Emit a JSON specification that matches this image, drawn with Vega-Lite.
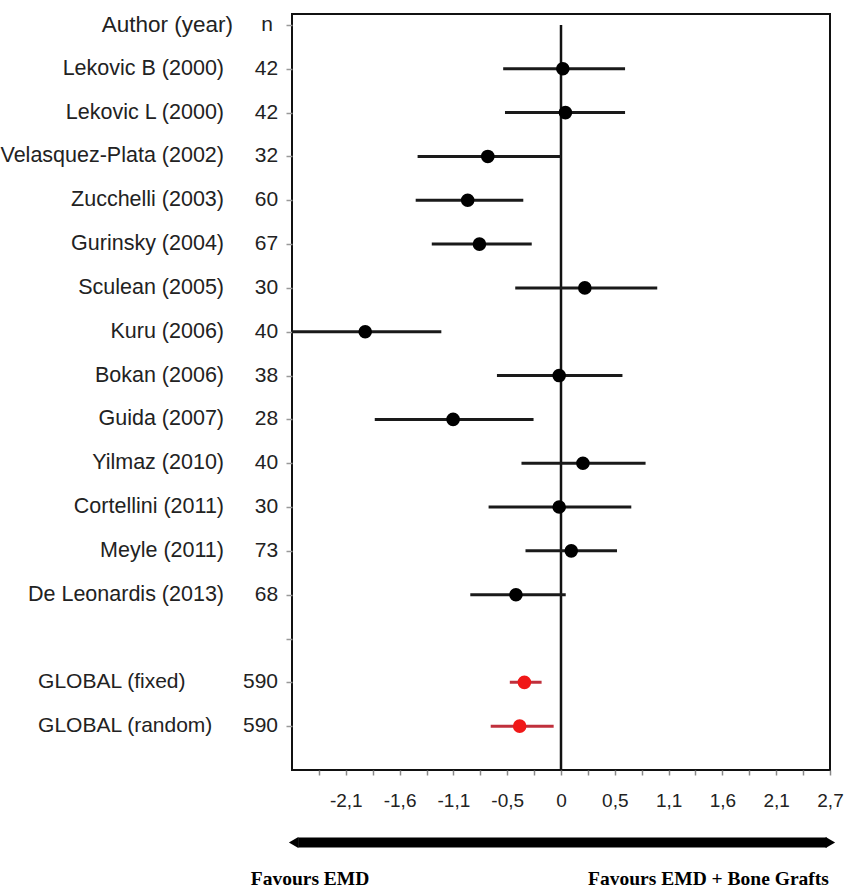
{
  "$schema": "https://vega.github.io/schema/vega-lite/v6.json",
  "padding": {"left": 0, "top": 13, "right": 0, "bottom": 0},
  "background": "white",
  "config": {"font": "Liberation Sans", "view": {"stroke": null}},
  "datasets": {
    "studies": [
      {"row": 1, "author": "Lekovic B (2000)", "n": "42", "pt": 0.018, "lo": -0.575, "hi": 0.637, "type": "study"},
      {"row": 2, "author": "Lekovic L (2000)", "n": "42", "pt": 0.044, "lo": -0.557, "hi": 0.637, "type": "study"},
      {"row": 3, "author": "Velasquez-Plata (2002)", "n": "32", "pt": -0.728, "lo": -1.426, "hi": 0.0, "type": "study"},
      {"row": 4, "author": "Zucchelli (2003)", "n": "60", "pt": -0.928, "lo": -1.445, "hi": -0.375, "type": "study"},
      {"row": 5, "author": "Gurinsky (2004)", "n": "67", "pt": -0.811, "lo": -1.285, "hi": -0.291, "type": "study"},
      {"row": 6, "author": "Sculean (2005)", "n": "30", "pt": 0.237, "lo": -0.455, "hi": 0.957, "type": "study"},
      {"row": 7, "author": "Kuru (2006)", "n": "40", "pt": -1.947, "lo": -2.72, "hi": -1.19, "type": "study"},
      {"row": 8, "author": "Bokan (2006)", "n": "38", "pt": -0.018, "lo": -0.637, "hi": 0.611, "type": "study"},
      {"row": 9, "author": "Guida (2007)", "n": "28", "pt": -1.073, "lo": -1.852, "hi": -0.273, "type": "study"},
      {"row": 10, "author": "Yilmaz (2010)", "n": "40", "pt": 0.218, "lo": -0.393, "hi": 0.841, "type": "study"},
      {"row": 11, "author": "Cortellini (2011)", "n": "30", "pt": -0.018, "lo": -0.72, "hi": 0.699, "type": "study"},
      {"row": 12, "author": "Meyle (2011)", "n": "73", "pt": 0.102, "lo": -0.353, "hi": 0.557, "type": "study"},
      {"row": 13, "author": "De Leonardis (2013)", "n": "68", "pt": -0.448, "lo": -0.902, "hi": 0.047, "type": "study"},
      {"row": 15, "author": "GLOBAL (fixed)", "n": "590", "pt": -0.364, "lo": -0.509, "hi": -0.193, "type": "global"},
      {"row": 16, "author": "GLOBAL (random)", "n": "590", "pt": -0.411, "lo": -0.699, "hi": -0.073, "type": "global"}
    ],
    "header": [{"row": 0, "author": "Author (year)", "n": "n"}],
    "footer": [
      {"label": "Favours EMD", "side": "left"},
      {"label": "Favours EMD + Bone Grafts", "side": "right"}
    ]
  },
  "spacing": 0,
  "vconcat": [
    {
      "spacing": 0,
      "hconcat": [
        {
          "width": 283,
          "height": 756,
          "layer": [
            {
              "data": {"name": "studies"},
              "transform": [{"filter": "datum.type === 'study'"}],
              "mark": {"type": "text", "align": "right", "baseline": "middle", "fontSize": 21.5, "color": "#222"},
              "encoding": {
                "x": {"datum": 7.88, "type": "quantitative", "scale": {"domain": [0, 10], "nice": false, "zero": false}, "axis": null},
                "y": {"field": "row", "type": "quantitative", "scale": {"domain": [-0.25, 17], "reverse": true, "nice": false, "zero": false}, "axis": null},
                "text": {"field": "author"}
              }
            },
            {
              "data": {"name": "studies"},
              "transform": [{"filter": "datum.type === 'global'"}],
              "mark": {"type": "text", "align": "left", "baseline": "middle", "fontSize": 21, "color": "#222"},
              "encoding": {
                "x": {"datum": 1.31, "type": "quantitative"},
                "y": {"field": "row", "type": "quantitative"},
                "text": {"field": "author"}
              }
            },
            {
              "data": {"name": "studies"},
              "mark": {"type": "text", "align": "right", "baseline": "middle", "fontSize": 21, "color": "#222"},
              "encoding": {
                "x": {"datum": 9.79, "type": "quantitative"},
                "y": {"field": "row", "type": "quantitative"},
                "text": {"field": "n"}
              }
            },
            {
              "data": {"name": "header"},
              "mark": {"type": "text", "align": "right", "baseline": "middle", "fontSize": 22.5, "color": "#222"},
              "encoding": {
                "x": {"datum": 8.2, "type": "quantitative"},
                "y": {"field": "row", "type": "quantitative"},
                "text": {"field": "author"}
              }
            },
            {
              "data": {"name": "header"},
              "mark": {"type": "text", "align": "right", "baseline": "middle", "fontSize": 21, "color": "#222"},
              "encoding": {
                "x": {"datum": 9.61, "type": "quantitative"},
                "y": {"field": "row", "type": "quantitative"},
                "text": {"field": "n"}
              }
            }
          ]
        },
        {
          "width": 538,
          "height": 756,
          "view": {"stroke": "#111", "strokeWidth": 2},
          "layer": [
            {
              "data": {"values": [{"x": 0, "y1": 0, "y2": 17}]},
              "mark": {"type": "rule", "strokeWidth": 2.5, "color": "#111"},
              "encoding": {
                "x": {
                  "field": "x", "type": "quantitative",
                  "scale": {"domain": [-2.675, 2.675], "nice": false, "zero": false},
                  "axis": {
                    "values": [-2.4075, -2.14, -1.8725, -1.605, -1.3375, -1.07, -0.8025, -0.535, -0.2675, 0, 0.2675, 0.535, 0.8025, 1.07, 1.3375, 1.605, 1.8725, 2.14, 2.4075, 2.675],
                    "tickCount": 40,
                    "labelExpr": "abs(round(datum.value / 0.2675)) % 2 == 0 ? (abs(datum.value) < 0.01 ? '0' : (datum.value < 0 ? '-' : '') + replace(format(abs(datum.value), '.1f'), '.', ',')) : ''",
                    "title": null, "domain": false, "grid": false,
                    "tickSize": 5, "tickColor": "#888", "tickWidth": 1.5,
                    "labelFontSize": 19, "labelColor": "#222", "labelPadding": 16,
                    "labelFlush": false, "labelOverlap": false
                  }
                },
                "y": {
                  "field": "y1", "type": "quantitative",
                  "scale": {"domain": [-0.25, 17], "reverse": true, "nice": false, "zero": false},
                  "axis": {
                    "values": [0, 1, 2, 3, 4, 5, 6, 7, 8, 9, 10, 11, 12, 13, 14, 15, 16],
                    "tickCount": 40,
                    "labels": false, "title": null, "domain": false, "grid": false,
                    "tickSize": 6, "tickColor": "#999", "tickWidth": 1.5
                  }
                },
                "y2": {"field": "y2"}
              }
            },
            {
              "data": {"name": "studies"},
              "mark": {"type": "rule", "strokeWidth": 3, "clip": true},
              "encoding": {
                "x": {"field": "lo", "type": "quantitative"},
                "x2": {"field": "hi"},
                "y": {"field": "row", "type": "quantitative"},
                "stroke": {"field": "type", "type": "nominal", "scale": {"domain": ["study", "global"], "range": ["#1a1a1a", "#c0303c"]}, "legend": null}
              }
            },
            {
              "data": {"name": "studies"},
              "mark": {"type": "circle", "size": 185, "opacity": 1},
              "encoding": {
                "x": {"field": "pt", "type": "quantitative"},
                "y": {"field": "row", "type": "quantitative"},
                "fill": {"field": "type", "type": "nominal", "scale": {"domain": ["study", "global"], "range": ["#000000", "#f01818"]}, "legend": null}
              }
            }
          ]
        }
      ]
    },
    {
      "width": 854,
      "height": 79,
      "data": {"name": "footer"},
      "layer": [
        {
          "data": {"values": [{"from": -2.6, "to": 2.64}]},
          "mark": {"type": "rule", "strokeWidth": 10, "color": "#000", "strokeCap": "butt"},
          "encoding": {
            "x": {"field": "from", "type": "quantitative", "scale": {"domain": [-5.545, 2.919], "nice": false, "zero": false}, "axis": null},
            "x2": {"field": "to"},
            "y": {"datum": 0.4, "type": "quantitative", "scale": {"domain": [0, 1], "reverse": true, "nice": false, "zero": false}, "axis": null}
          }
        },
        {
          "data": {"values": [{"at": -2.645, "shape": "triangle-left"}, {"at": 2.675, "shape": "triangle-right"}]},
          "mark": {"type": "point", "filled": true, "size": 120, "color": "#000", "opacity": 1},
          "encoding": {
            "x": {"field": "at", "type": "quantitative"},
            "y": {"datum": 0.4, "type": "quantitative"},
            "shape": {"field": "shape", "type": "nominal", "scale": null}
          }
        },
        {
          "transform": [{"filter": "datum.side === 'left'"}],
          "mark": {"type": "text", "align": "left", "baseline": "middle", "font": "Liberation Serif", "fontWeight": "bold", "fontSize": 19.5, "color": "#000"},
          "encoding": {
            "x": {"datum": -3.07, "type": "quantitative"},
            "y": {"datum": 0.86, "type": "quantitative"},
            "text": {"field": "label"}
          }
        },
        {
          "transform": [{"filter": "datum.side === 'right'"}],
          "mark": {"type": "text", "align": "right", "baseline": "middle", "font": "Liberation Serif", "fontWeight": "bold", "fontSize": 19.5, "color": "#000"},
          "encoding": {
            "x": {"datum": 2.66, "type": "quantitative"},
            "y": {"datum": 0.86, "type": "quantitative"},
            "text": {"field": "label"}
          }
        }
      ]
    }
  ]
}
